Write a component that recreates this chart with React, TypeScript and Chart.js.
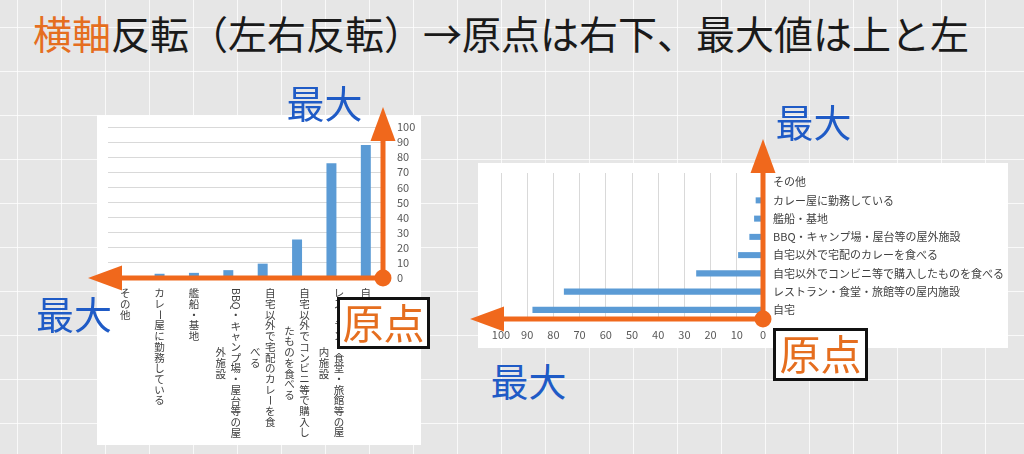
import React, { useEffect, useRef } from "react";
import { Chart, registerables } from "chart.js";

Chart.register(...registerables);

// ---------- data ----------
const CATEGORIES: string[] = [
  "自宅",
  "レストラン・食堂・旅館等の屋内施設",
  "自宅以外でコンビニ等で購入したものを食べる",
  "自宅以外で宅配のカレーを食べる",
  "BBQ・キャンプ場・屋台等の屋外施設",
  "艦船・基地",
  "カレー屋に勤務している",
  "その他",
];
const VALUES: number[] = [88, 76, 25.5, 9.5, 5.2, 3.4, 2.8, 0];
// wrapped (vertical) category labels for the column chart
const VERTICAL_LABEL_LINES: string[][] = [
  ["自宅"],
  ["レストラン・食堂・旅館等の屋", "内施設"],
  ["自宅以外でコンビニ等で購入し", "たものを食べる"],
  ["自宅以外で宅配のカレーを食", "べる"],
  ["BBQ・キャンプ場・屋台等の屋", "外施設"],
  ["艦船・基地"],
  ["カレー屋に勤務している"],
  ["その他"],
];
const AXIS_MIN = 0;
const AXIS_MAX = 100;
const AXIS_STEP = 10;

const TITLE_HIGHLIGHT = "横軸";
const TITLE_REST = "反転（左右反転）→原点は右下、最大値は上と左";
const MAX_LABEL = "最大";
const ORIGIN_LABEL = "原点";

// ---------- styles ----------
const FONT = '"Noto Sans CJK JP", "Noto Sans", sans-serif';
const BAR_COLOR = "#5B9BD5";
const ARROW_COLOR = "#F0681C";
const TEXT_ORANGE = "#E56E1F";
const BLUE = "#1F5BC6";
const GRID_COLOR = "#d9d9d9";
const TICK_COLOR = "#595959";
const LABEL_COLOR = "#404040";

function drawArrow(
  ctx: CanvasRenderingContext2D,
  x0: number,
  y0: number,
  x1: number,
  y1: number
) {
  const headLen = 34;
  const headHalf = 12.5;
  const ang = Math.atan2(y1 - y0, x1 - x0);
  const bx = x1 - headLen * Math.cos(ang);
  const by = y1 - headLen * Math.sin(ang);
  ctx.strokeStyle = ARROW_COLOR;
  ctx.lineWidth = 5;
  ctx.beginPath();
  ctx.moveTo(x0, y0);
  ctx.lineTo(bx, by);
  ctx.stroke();
  ctx.fillStyle = ARROW_COLOR;
  ctx.beginPath();
  ctx.moveTo(x1, y1);
  ctx.lineTo(bx - headHalf * Math.sin(ang), by + headHalf * Math.cos(ang));
  ctx.lineTo(bx + headHalf * Math.sin(ang), by - headHalf * Math.cos(ang));
  ctx.closePath();
  ctx.fill();
}

function makeArrowPlugin(mode: "column" | "bar", extLeft: number, extTop: number) {
  return {
    id: "axesArrows",
    afterDatasetsDraw(chart: any) {
      const { ctx, chartArea, scales } = chart;
      let ox: number, oy: number;
      if (mode === "column") {
        ox = chartArea.right;
        oy = scales.y.getPixelForValue(0);
      } else {
        ox = scales.x.getPixelForValue(0);
        oy = chartArea.bottom;
      }
      ctx.save();
      drawArrow(ctx, ox, oy, chartArea.left - extLeft, oy);
      drawArrow(ctx, ox, oy, ox, chartArea.top - extTop);
      ctx.fillStyle = ARROW_COLOR;
      ctx.beginPath();
      ctx.arc(ox, oy, 8.5, 0, Math.PI * 2);
      ctx.fill();
      ctx.restore();
    },
  };
}

const ADV = 10.7;
const COL_GAP = 15;
const verticalLabelsPlugin = {
  id: "verticalLabels",
  afterDraw(chart: any) {
    const { ctx, chartArea, scales } = chart;
    const top = chartArea.bottom + 10;
    ctx.save();
    ctx.font = `10.5px ${FONT}`;
    ctx.fillStyle = LABEL_COLOR;
    ctx.textAlign = "center";
    ctx.textBaseline = "middle";
    const adv = (ch: string) => (/[A-Za-z0-9]/.test(ch) ? ctx.measureText(ch).width : ADV);
    VERTICAL_LABEL_LINES.forEach((lines, i) => {
      const cx = scales.x.getPixelForTick(i);
      const lens = lines.map((l) => [...l].reduce((s, c) => s + adv(c), 0));
      const maxLen = Math.max(...lens);
      const n = lines.length;
      lines.forEach((line, j) => {
        const colX = cx + ((n - 1) / 2 - j) * COL_GAP;
        let y = top + (maxLen - lens[j]) / 2;
        for (const ch of [...line]) {
          const a = adv(ch);
          const cy = y + a / 2;
          if (/[A-Za-z0-9ー]/.test(ch)) {
            ctx.save();
            ctx.translate(colX, cy);
            ctx.rotate(Math.PI / 2);
            ctx.fillText(ch, 0, 0);
            ctx.restore();
          } else {
            ctx.fillText(ch, colX, cy);
          }
          y += a;
        }
      });
    });
    ctx.restore();
  },
};

function ChartCanvas({
  makeConfig,
  left,
  top,
  width,
  height,
}: {
  makeConfig: () => any;
  left: number;
  top: number;
  width: number;
  height: number;
}) {
  const ref = useRef<HTMLCanvasElement>(null);
  useEffect(() => {
    const chart = new Chart(ref.current as HTMLCanvasElement, makeConfig());
    return () => chart.destroy();
  }, []);
  return (
    <canvas
      ref={ref}
      width={width}
      height={height}
      style={{ position: "absolute", left, top, width, height }}
    />
  );
}

const columnConfig = () => ({
  type: "bar",
  data: {
    labels: CATEGORIES,
    datasets: [
      {
        data: VALUES,
        backgroundColor: BAR_COLOR,
        categoryPercentage: 1,
        barPercentage: 0.29,
      },
    ],
  },
  options: {
    responsive: false,
    animation: false,
    layout: { padding: { left: 28, top: 27, right: 0, bottom: 0 } },
    plugins: { legend: { display: false }, tooltip: { enabled: false } },
    scales: {
      x: {
        type: "category",
        reverse: true,
        grid: { display: false },
        border: { display: false },
        ticks: { display: false },
        afterFit: (s: any) => {
          s.height = 167;
        },
      },
      y: {
        position: "right",
        min: AXIS_MIN,
        max: AXIS_MAX,
        ticks: {
          stepSize: AXIS_STEP,
          autoSkip: false,
          padding: 14,
          color: TICK_COLOR,
          font: { size: 11, family: FONT },
        },
        grid: { color: GRID_COLOR, drawTicks: false },
        border: { display: false },
        afterFit: (s: any) => {
          s.width = 47;
        },
      },
    },
  },
  plugins: [makeArrowPlugin("column", 20, 20), verticalLabelsPlugin],
});

const barConfig = () => ({
  type: "bar",
  data: {
    labels: CATEGORIES,
    datasets: [
      {
        data: VALUES,
        backgroundColor: BAR_COLOR,
        categoryPercentage: 1,
        barPercentage: 0.33,
      },
    ],
  },
  options: {
    indexAxis: "y",
    responsive: false,
    animation: false,
    layout: { padding: { left: 36, top: 43, right: 0, bottom: 0 } },
    plugins: { legend: { display: false }, tooltip: { enabled: false } },
    scales: {
      x: {
        type: "linear",
        position: "bottom",
        reverse: true,
        min: AXIS_MIN,
        max: AXIS_MAX,
        ticks: {
          stepSize: AXIS_STEP,
          autoSkip: false,
          padding: 9,
          color: TICK_COLOR,
          font: { size: 11, family: FONT },
        },
        grid: { color: GRID_COLOR, drawTicks: false },
        border: { display: false },
        afterFit: (s: any) => {
          s.height = 31;
        },
      },
      y: {
        type: "category",
        position: "right",
        reverse: true,
        grid: { display: false },
        border: { display: false },
        ticks: {
          autoSkip: false,
          padding: 2,
          color: LABEL_COLOR,
          font: { size: 11, family: FONT },
        },
        afterFit: (s: any) => {
          s.width = 247;
        },
      },
    },
  },
  plugins: [makeArrowPlugin("bar", 31, 34)],
});

function MaxLabel({ cx, cy }: { cx: number; cy: number }) {
  return (
    <div
      style={{
        position: "absolute",
        left: cx - 45,
        top: cy - 21,
        width: 90,
        textAlign: "center",
        fontSize: 38,
        lineHeight: "38px",
        color: BLUE,
        whiteSpace: "nowrap",
      }}
    >
      {MAX_LABEL}
    </div>
  );
}

function OriginLabel({ left, top, width, height }: { left: number; top: number; width: number; height: number }) {
  return (
    <div
      style={{
        position: "absolute",
        left,
        top,
        width,
        height,
        boxSizing: "border-box",
        border: "3px solid #111",
        background: "#fff",
        display: "flex",
        alignItems: "center",
        justifyContent: "center",
        fontSize: 41,
        lineHeight: "41px",
        color: TEXT_ORANGE,
        paddingBottom: 4,
        whiteSpace: "nowrap",
      }}
    >
      {ORIGIN_LABEL}
    </div>
  );
}

export default function App() {
  return (
    <div
      style={{
        position: "fixed",
        left: 0,
        top: 0,
        width: 1024,
        height: 454,
        overflow: "hidden",
        fontFamily: FONT,
        backgroundColor: "#e6e6e6",
        backgroundImage:
          "linear-gradient(to right, rgba(255,255,255,0.75) 1px, transparent 1px), linear-gradient(to bottom, rgba(255,255,255,0.75) 1px, transparent 1px)",
        backgroundSize: "44px 44px",
        backgroundPosition: "17px 27px",
      }}
    >
      <div
        style={{
          position: "absolute",
          left: 33,
          top: 13,
          fontSize: 39,
          lineHeight: "39px",
          color: "#1a1a1a",
          whiteSpace: "nowrap",
        }}
      >
        <span style={{ color: TEXT_ORANGE }}>{TITLE_HIGHLIGHT}</span>
        {TITLE_REST}
      </div>

      <div style={{ position: "absolute", left: 97, top: 115, width: 324, height: 330, background: "#fff" }} />
      <div style={{ position: "absolute", left: 478, top: 163, width: 530, height: 185, background: "#fff" }} />

      <ChartCanvas makeConfig={columnConfig} left={80} top={100} width={350} height={345} />
      <ChartCanvas makeConfig={barConfig} left={465} top={130} width={545} height={220} />

      <MaxLabel cx={324.5} cy={104} />
      <MaxLabel cx={74} cy={314.5} />
      <MaxLabel cx={813.5} cy={122.5} />
      <MaxLabel cx={528.5} cy={382} />

      <OriginLabel left={337} top={297} width={93} height={52} />
      <OriginLabel left={773} top={328} width={95} height={53} />
    </div>
  );
}
